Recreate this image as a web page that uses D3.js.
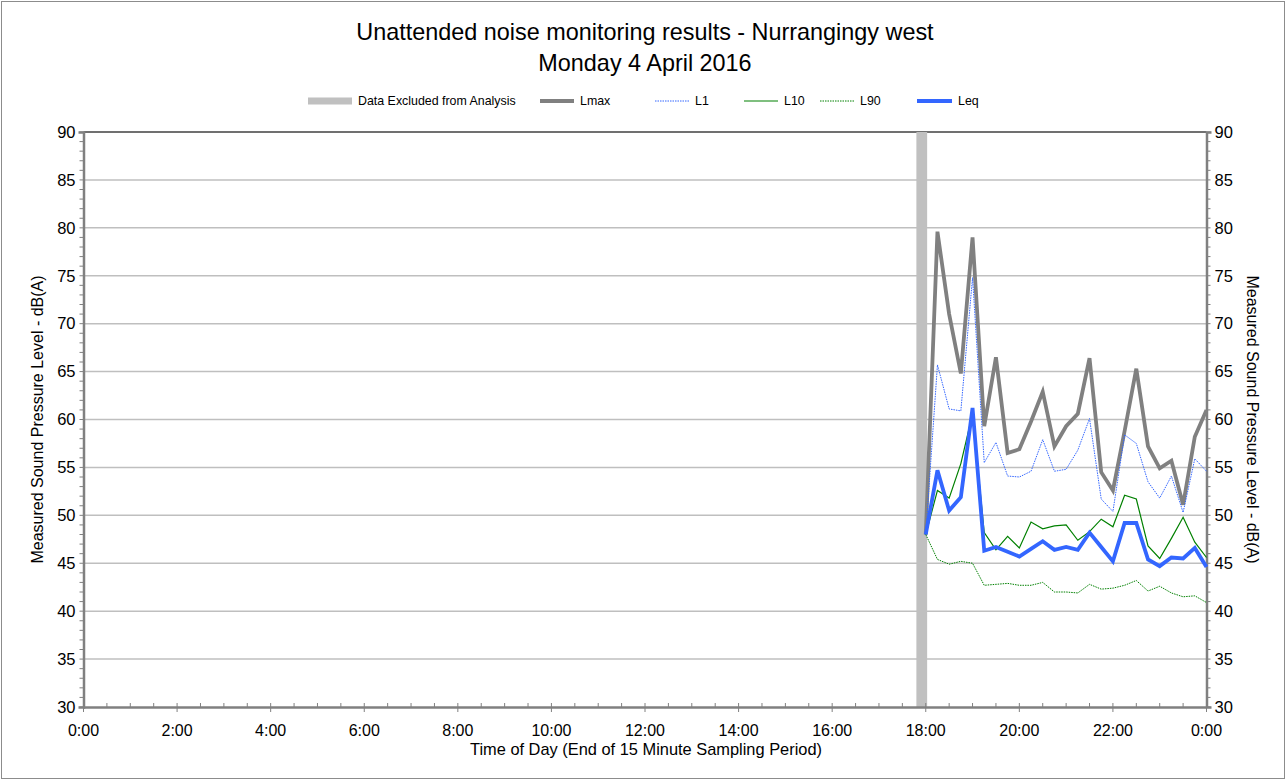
<!DOCTYPE html>
<html>
<head>
<meta charset="utf-8">
<script src="https://cdn.jsdelivr.net/npm/d3@7"></script>
<style>
  html, body { margin: 0; padding: 0; background: #fff; }
  svg { display: block; font-family: "Liberation Sans", Arial, sans-serif; }
</style>
</head>
<body>
<svg id="chart" width="1288" height="782"></svg>
<script>
// Sampling times: end of each 15 minute period, in hours since midnight
const times = d3.range(0, 25).map(i => 18 + i * 0.25);

const lmax = [48.0, 79.6, 71.0, 64.8, 79.0, 59.3, 66.5, 56.5, 56.9, 59.8, 62.9, 57.2, 59.3,
              60.6, 66.4, 54.5, 52.6, 58.8, 65.3, 57.2, 54.9, 55.7, 51.1, 58.2, 61.0];
const l1   = [48.0, 65.7, 61.1, 60.9, 74.8, 55.5, 57.6, 54.1, 54.0, 54.6, 57.9, 54.6, 54.8,
              56.8, 60.1, 51.7, 50.4, 58.4, 57.5, 53.5, 51.8, 54.1, 50.3, 55.9, 54.6];
const l10  = [48.0, 52.6, 51.8, 55.4, 60.6, 48.2, 46.4, 47.8, 46.6, 49.3, 48.6, 48.9, 49.0,
              47.4, 48.3, 49.6, 48.8, 52.1, 51.7, 46.8, 45.5, 47.6, 49.8, 47.2, 45.6];
const l90  = [48.0, 45.4, 44.9, 45.2, 45.0, 42.7, 42.8, 42.9, 42.7, 42.7, 43.0, 42.0, 42.0,
              41.9, 42.8, 42.3, 42.4, 42.7, 43.2, 42.1, 42.6, 41.9, 41.5, 41.6, 40.9];
const leq  = [48.0, 54.7, 50.5, 51.9, 61.2, 46.3, 46.7, 46.2, 45.7, 46.5, 47.3, 46.4, 46.7,
              46.4, 48.2, 46.7, 45.2, 49.2, 49.2, 45.4, 44.7, 45.6, 45.5, 46.6, 44.6];

// Period excluded from analysis (hours)
const excluded = [17.8, 18.03];

const yTicks = d3.range(30, 91, 5);
const xTicks = d3.range(0, 25, 2);
const xTickLabels = xTicks.map(h => (h % 24) + ":00");

const titleLines = ["Unattended noise monitoring results - Nurrangingy west", "Monday 4 April 2016"];
const yTitle = "Measured Sound Pressure Level - dB(A)";
const xTitle = "Time of Day (End of 15 Minute Sampling Period)";

const series = [
  { name: "Lmax", values: lmax, color: "#808080", width: 3.8, dash: null },
  { name: "L1",   values: l1,   color: "#3366ff", width: 1,   dash: "1.5,1" },
  { name: "L10",  values: l10,  color: "#008000", width: 1.2, dash: null },
  { name: "L90",  values: l90,  color: "#008000", width: 1,   dash: "1.5,1" },
  { name: "Leq",  values: leq,  color: "#3366ff", width: 3.8, dash: null }
];

const svg = d3.select("#chart");
const W = 1288, H = 782;
const plot = { left: 83.5, right: 1206.5, top: 132, bottom: 707 };

const x = d3.scaleLinear().domain([0, 24]).range([plot.left, plot.right]);
const y = d3.scaleLinear().domain([30, 90]).range([plot.bottom, plot.top]);

// Outer frame
svg.append("rect").attr("x", 1.5).attr("y", 1.5).attr("width", W - 5).attr("height", H - 5)
  .attr("fill", "#fff").attr("stroke", "#8c8c8c").attr("stroke-width", 1);

// Title
svg.append("g").selectAll("text").data(titleLines).join("text")
  .attr("x", 645).attr("y", (d, i) => 40 + i * 31)
  .attr("text-anchor", "middle").attr("font-size", 23.4).attr("fill", "#000")
  .text(d => d);

// Horizontal gridlines
svg.append("g").selectAll("line").data(yTicks.filter(v => v > 30 && v < 90)).join("line")
  .attr("x1", plot.left).attr("x2", plot.right)
  .attr("y1", d => y(d)).attr("y2", d => y(d))
  .attr("stroke", "#bfbfbf").attr("stroke-width", 1.5);

// Top border of the plot area
svg.append("line").attr("x1", plot.left).attr("x2", plot.right)
  .attr("y1", y(90)).attr("y2", y(90)).attr("stroke", "#404040").attr("stroke-width", 1.5);

// Excluded data band
svg.append("rect")
  .attr("x", x(excluded[0])).attr("width", x(excluded[1]) - x(excluded[0]))
  .attr("y", plot.top).attr("height", plot.bottom - plot.top)
  .attr("fill", "#c0c0c0");

// Left axis
const yMinor = d3.range(30, 91, 1);
const leftAxis = d3.axisLeft(y).tickValues(yTicks).tickSize(5);
const gl = svg.append("g").attr("transform", `translate(${plot.left},0)`).call(leftAxis);
gl.selectAll("g.tick").remove();
gl.append("g").selectAll("line").data(yMinor).join("line")
  .attr("x1", -4).attr("x2", 0).attr("y1", d => y(d)).attr("y2", d => y(d))
  .attr("stroke", "#808080").attr("stroke-width", 1);
gl.append("g").selectAll("text").data(yTicks).join("text")
  .attr("x", -8).attr("y", d => y(d)).attr("dy", "0.35em")
  .attr("text-anchor", "end").attr("font-size", 16.5).attr("fill", "#000")
  .text(d => d);
gl.select("path.domain").attr("stroke", "#808080").attr("stroke-width", 2.5);

// Right axis
const rightAxis = d3.axisRight(y).tickValues(yTicks).tickSize(5);
const gr = svg.append("g").attr("transform", `translate(${plot.right},0)`).call(rightAxis);
gr.selectAll("g.tick").remove();
gr.append("g").selectAll("line").data(yMinor).join("line")
  .attr("x1", 0).attr("x2", 4).attr("y1", d => y(d)).attr("y2", d => y(d))
  .attr("stroke", "#808080").attr("stroke-width", 1);
gr.append("g").selectAll("text").data(yTicks).join("text")
  .attr("x", 8).attr("y", d => y(d)).attr("dy", "0.35em")
  .attr("text-anchor", "start").attr("font-size", 16.5).attr("fill", "#000")
  .text(d => d);
gr.select("path.domain").attr("stroke", "#808080").attr("stroke-width", 2.5);

// Bottom axis
const xMinor = d3.range(0, 24.01, 0.5);
const bottomAxis = d3.axisBottom(x).tickValues(xTicks).tickSize(0);
const gb = svg.append("g").attr("transform", `translate(0,${plot.bottom})`).call(bottomAxis);
gb.selectAll("g.tick").remove();
gb.select("path.domain").attr("stroke", "#808080").attr("stroke-width", 2.5);
gb.append("g").selectAll("line").data(xMinor).join("line")
  .attr("x1", d => x(d)).attr("x2", d => x(d))
  .attr("y1", d => (d % 2 === 0 ? 5 : 0)).attr("y2", -4)
  .attr("stroke", "#808080").attr("stroke-width", 1);
gb.append("g").selectAll("text").data(xTicks).join("text")
  .attr("x", d => x(d)).attr("y", 29)
  .attr("text-anchor", "middle").attr("font-size", 16).attr("fill", "#000")
  .text((d, i) => xTickLabels[i]);

// Axis titles
svg.append("text").attr("transform", `translate(43,${(plot.top + plot.bottom) / 2}) rotate(-90)`)
  .attr("text-anchor", "middle").attr("font-size", 16).attr("fill", "#000").text(yTitle);
svg.append("text").attr("transform", `translate(1247,${(plot.top + plot.bottom) / 2}) rotate(90)`)
  .attr("text-anchor", "middle").attr("font-size", 16).attr("fill", "#000").text(yTitle);
svg.append("text").attr("x", 646).attr("y", 755)
  .attr("text-anchor", "middle").attr("font-size", 16.4).attr("fill", "#000").text(xTitle);

// Series lines
const line = d3.line().x((d, i) => x(times[i])).y(d => y(d));
svg.append("g").selectAll("path").data(series).join("path")
  .attr("d", s => line(s.values))
  .attr("fill", "none")
  .attr("stroke", s => s.color)
  .attr("stroke-width", s => s.width)
  .attr("stroke-dasharray", s => s.dash)
  .attr("stroke-linejoin", "miter");

// Legend
const legendItems = [
  { name: "Data Excluded from Analysis", color: "#c0c0c0", width: 7, dash: null, x: 308, len: 44 },
  { name: "Lmax", color: "#808080", width: 3.8, dash: null, x: 540, len: 34 },
  { name: "L1",   color: "#3366ff", width: 1,   dash: "1.5,1", x: 655, len: 34 },
  { name: "L10",  color: "#008000", width: 1.2, dash: null, x: 744, len: 34 },
  { name: "L90",  color: "#008000", width: 1,   dash: "1.5,1", x: 820, len: 34 },
  { name: "Leq",  color: "#3366ff", width: 3.8, dash: null, x: 917, len: 35 }
];
const lg = svg.append("g").attr("transform", "translate(0,101)");
const li = lg.selectAll("g").data(legendItems).join("g");
li.append("line").attr("x1", d => d.x).attr("x2", d => d.x + d.len)
  .attr("y1", 0).attr("y2", 0)
  .attr("stroke", d => d.color).attr("stroke-width", d => d.width)
  .attr("stroke-dasharray", d => d.dash);
li.append("text").attr("x", d => d.x + d.len + 6).attr("y", 0).attr("dy", "0.35em")
  .attr("font-size", 12.4).attr("fill", "#000").text(d => d.name);
</script>
</body>
</html>
